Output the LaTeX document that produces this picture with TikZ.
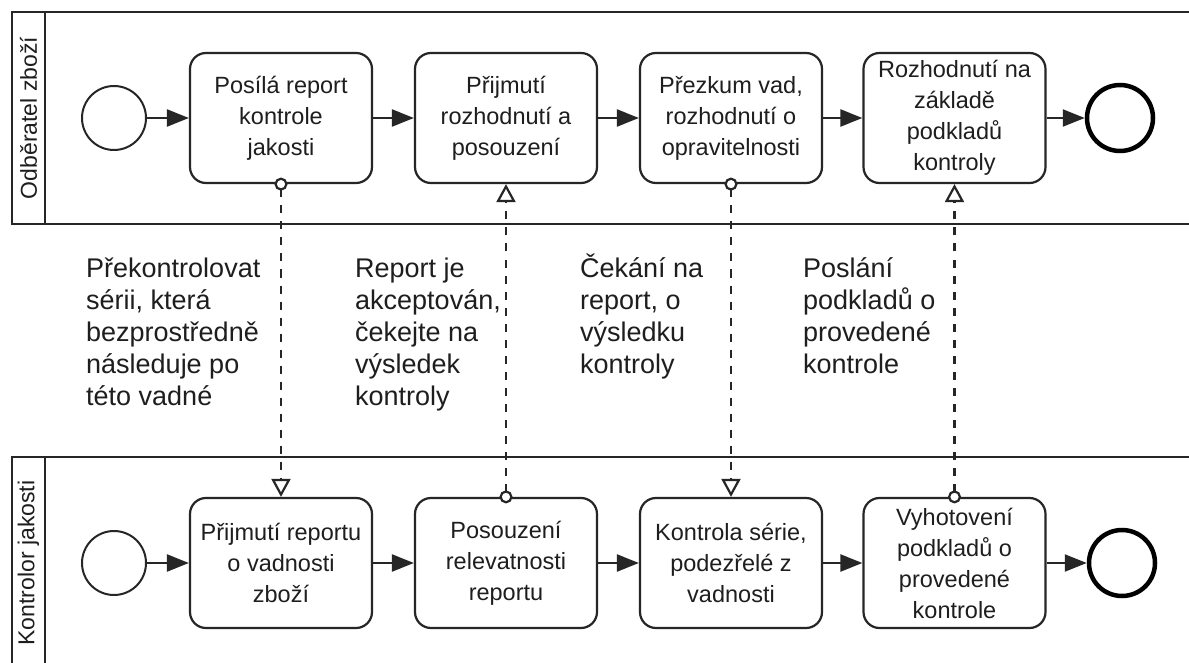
\documentclass[tikz,border=0pt]{standalone}
\usepackage{fontspec}
\setmainfont{Liberation Sans}
\usetikzlibrary{arrows.meta}
\definecolor{ln}{HTML}{262626}
\definecolor{tx}{HTML}{1E1E1E}
\tikzset{
  pool/.style={draw=ln, line width=2.2pt},
  lanelabel/.style={text=tx, font=\fontsize{23}{27}\selectfont, inner sep=0pt},
  task/.style={draw=ln, line width=2.2pt, rounded corners=16pt, minimum width=182pt, minimum height=130pt, align=center, inner sep=2pt, text=tx, font=\fontsize{23.5}{31}\selectfont},
  startev/.style={draw=ln, circle, line width=2pt, minimum size=64pt, inner sep=0pt},
  endev/.style={draw=black, circle, line width=4.5pt, minimum size=66pt, inner sep=0pt},
  seq/.style={draw=ln, line width=2.2pt, -{Triangle[length=22pt,width=17pt]}},
  msg/.style={draw=ln, line width=2.2pt, dash pattern=on 8pt off 8pt,
     {Circle[fill=white,length=13pt,width=13pt]}-{Triangle[fill=white,length=18pt,width=19pt]}, shorten <=-6.5pt},
  lbl/.style={text=tx, align=left, inner sep=0pt, font=\fontsize{27}{32}\selectfont}
}
\begin{document}
\begin{tikzpicture}[x=1pt,y=-1pt]
\useasboundingbox (0,0) rectangle (1189,663);
\clip (0,0) rectangle (1189,663);
\fill[white] (0,0) rectangle (1189,663);
% pools
\draw[pool] (12,12) rectangle (1210,224);
\draw[pool] (45,12) -- (45,224);
\draw[pool] (12,457) rectangle (1210,690);
\draw[pool] (45,457) -- (45,690);
\node[lanelabel, rotate=90] (lane1) at (28.5,118) {Odběratel zboží};
\node[lanelabel, rotate=90] (lane2) at (28.5,563) {Kontrolor jakosti};
% top lane
\node[startev] (s1) at (114,118) {};
\node[task] (t1) at (281,118) {Posílá report\\kontrole\\jakosti};
\node[task] (t2) at (506,118) {Přijmutí\\rozhodnutí a\\posouzení};
\node[task] (t3) at (731,118) {Přezkum vad,\\rozhodnutí o\\opravitelnosti};
\node[task] (t4) at (954.5,118) {Rozhodnutí na\\základě\\podkladů\\kontroly};
\node[endev] (e1) at (1120,118) {};
\draw[seq] (s1) -- (t1);
\draw[seq] (t1) -- (t2);
\draw[seq] (t2) -- (t3);
\draw[seq] (t3) -- (t4);
\draw[seq] (t4) -- (e1);
% bottom lane
\node[startev] (s2) at (114,563) {};
\node[task] (b1) at (281,563) {Přijmutí reportu\\o vadnosti\\zboží};
\node[task] (b2) at (506,563) {Posouzení\\relevatnosti\\reportu};
\node[task] (b3) at (731,563) {Kontrola série,\\podezřelé z\\vadnosti};
\node[task] (b4) at (954.5,563) {Vyhotovení\\podkladů o\\provedené\\kontrole};
\node[endev] (e2) at (1122,563) {};
\draw[seq] (s2) -- (b1);
\draw[seq] (b1) -- (b2);
\draw[seq] (b2) -- (b3);
\draw[seq] (b3) -- (b4);
\draw[seq] (b4) -- (e2);
% message flows
\draw[msg] (t1.south) -- (b1.north);
\draw[msg] (b2.north) -- (t2.south);
\draw[msg] (t3.south) -- (b3.north);
\draw[msg] (b4.north) -- (t4.south);
% labels (base = last line)
\node[lbl, anchor=base west] (m1) at (86,405) {Překontrolovat\\sérii, která\\bezprostředně\\následuje po\\této vadné};
\node[lbl, anchor=base west] (m2) at (355,405) {Report je\\akceptován,\\čekejte na\\výsledek\\kontroly};
\node[lbl, anchor=base west] (m3) at (580,373) {Čekání na\\report, o\\výsledku\\kontroly};
\node[lbl, anchor=base west] (m4) at (803,373) {Poslání\\podkladů o\\provedené\\kontrole};
\end{tikzpicture}
\end{document}
